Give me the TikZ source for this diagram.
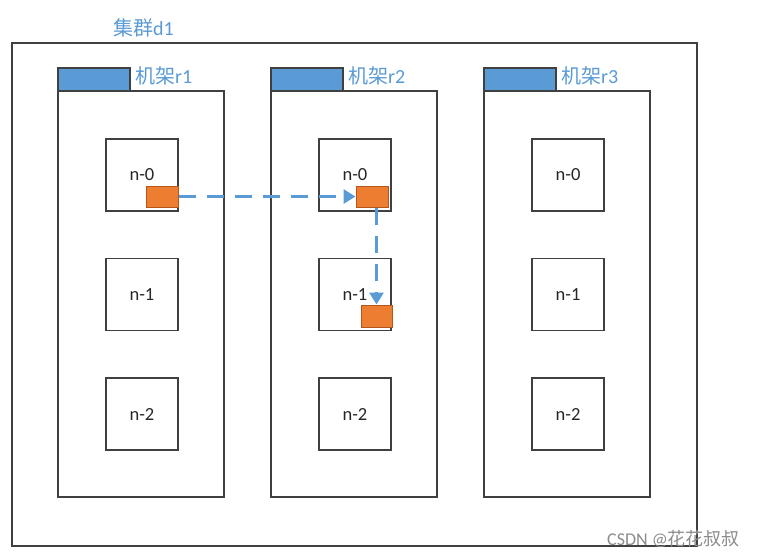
\documentclass[tikz,border=0pt]{standalone}
\usepackage{fontspec}
\setmainfont{Carlito}
\newfontfamily\cjk{Noto Sans CJK SC}
\usetikzlibrary{arrows.meta}
\definecolor{bl}{HTML}{5B9BD5}
\definecolor{og}{HTML}{ED7D31}
\definecolor{ogd}{HTML}{B4561A}
\definecolor{ln}{HTML}{404040}
\begin{document}
\begin{tikzpicture}[x=1pt,y=-1pt,
  frame/.style={draw=ln, line width=1.3pt, fill=white, inner sep=0pt},
  rackbox/.style={frame, minimum width=166pt, minimum height=406pt},
  tab/.style={draw=ln, line width=1.3pt, fill=bl, minimum width=72pt, minimum height=23pt, inner sep=0pt},
  nodebox/.style={frame, minimum width=72pt, minimum height=72pt, font=\fontsize{18.5}{20}\selectfont, text=black!85},
  lbl/.style={text=bl, font=\fontsize{20}{22}\selectfont, anchor=west, inner sep=0pt},
  blk/.style={draw=ogd, line width=1pt, fill=og, minimum width=32pt, minimum height=21pt, inner sep=0pt},
  flow/.style={draw=bl, line width=3.5pt, dash pattern=on 17pt off 11pt, -{Triangle[length=12pt,width=14pt]}}
]
\useasboundingbox (0,0) rectangle (759,557);
\fill[white] (0,0) rectangle (759,557);
% cluster
\node[frame, minimum width=685pt, minimum height=503pt] (cl) at (354.5,294.5) {};
\node[lbl] (cllbl) at (113,28) {{\cjk 集群}d1};
% racks
\foreach \n/\x in {1/141,2/354,3/567}{
  \node[rackbox] (r\n) at (\x,294) {};
  \node[tab] (t\n) at (\x-47,79.5) {};
  \node[lbl] (l\n) at (\x-6,76) {{\cjk 机架}r\n};
  \node[nodebox] (r\n n0) at (\x+1,175) {n-0};
  \node[nodebox] (r\n n1) at (\x+1,294.5) {n-1};
  \node[nodebox] (r\n n2) at (\x+1,414) {n-2};
}
% blocks
\node[blk] (b1) at (162,196.5) {};
\node[blk] (b2) at (372,196.5) {};
\node[blk, minimum width=31pt, minimum height=22pt] (b3) at (376.5,316) {};
\draw[flow] (b1.east) -- (b2.west);
\draw[flow] (b2.south -| b3.north) -- (b3.north);
% watermark
\node[text=black!45, font=\fontsize{18}{20}\selectfont, anchor=west, inner sep=0pt] (wm) at (607,539) {CSDN @{\cjk 花花叔叔}};
\end{tikzpicture}
\end{document}
